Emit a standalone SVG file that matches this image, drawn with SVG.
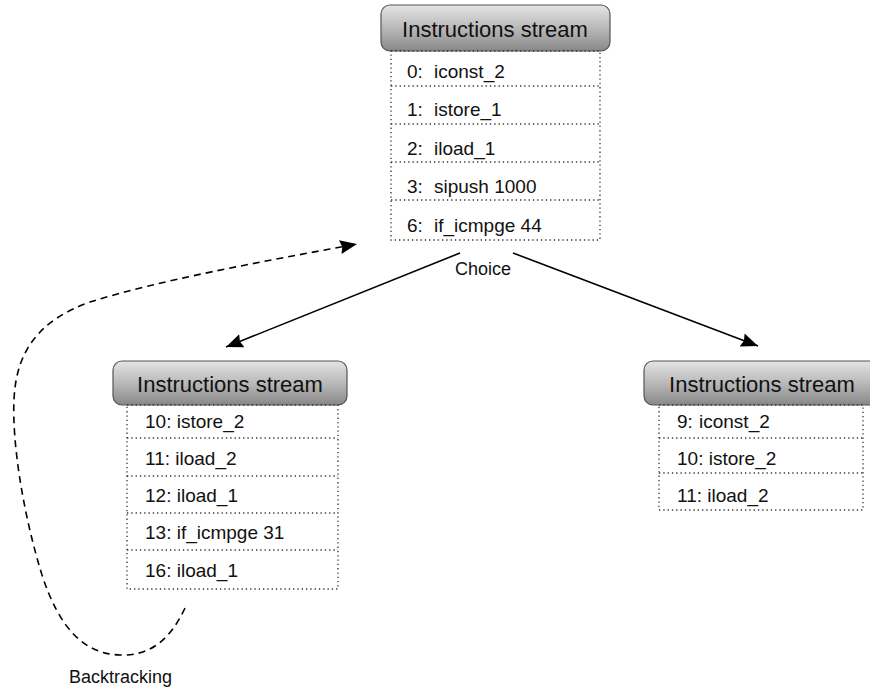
<svg xmlns="http://www.w3.org/2000/svg" width="870" height="690" viewBox="0 0 870 690">
  <defs>
    <linearGradient id="hdrFill" x1="0" y1="0" x2="0" y2="1">
      <stop offset="0" stop-color="#e4e4e4"/>
      <stop offset="0.5" stop-color="#b9b9b9"/>
      <stop offset="1" stop-color="#888"/>
    </linearGradient>
    <marker id="arrow" markerUnits="userSpaceOnUse" markerWidth="18" markerHeight="14" refX="17" refY="7" orient="auto">
      <path d="M0,0 L17,7 L0,14 L2,7 z" fill="#000"/>
    </marker>
  </defs>
  <style>
    text { font-family: "Liberation Sans", Arial, sans-serif; fill: #111; }
    .hdr { fill: url(#hdrFill); stroke: #555; stroke-width: 1.2; }
    .hdrText { font-size: 22px; text-anchor: middle; }
    .row { font-size: 19px; }
    .list { fill: none; stroke: #333; stroke-width: 1.3; stroke-dasharray: 1.3 3; }
    .label { font-size: 18px; }
    .edge { fill: none; stroke: #000; stroke-width: 1.6; marker-end: url(#arrow); }
    .back { stroke-dasharray: 7 5; }
  </style>

  <rect width="870" height="690" fill="#fff"/>

  <!-- root block -->
  <g id="stream-root">
    <rect class="hdr" x="381" y="5" width="229" height="46" rx="9"/>
    <text class="hdrText" x="495" y="37">Instructions stream</text>
    <rect class="list" x="391" y="51" width="209" height="189"/>
    <path class="list" d="M391,86 H600 M391,124 H600 M391,162 H600 M391,200 H600"/>
    <text class="row" x="407" y="78">0:<tspan x="434">iconst_2</tspan></text>
    <text class="row" x="407" y="116">1:<tspan x="434">istore_1</tspan></text>
    <text class="row" x="407" y="155">2:<tspan x="434">iload_1</tspan></text>
    <text class="row" x="407" y="193">3:<tspan x="434">sipush 1000</tspan></text>
    <text class="row" x="407" y="232">6:<tspan x="434">if_icmpge 44</tspan></text>
  </g>

  <!-- branch taken -->
  <g id="stream-left">
    <rect class="hdr" x="113" y="361" width="234" height="44" rx="9"/>
    <text class="hdrText" x="230" y="392">Instructions stream</text>
    <rect class="list" x="127" y="405" width="211" height="184"/>
    <path class="list" d="M127,438 H338 M127,476 H338 M127,513 H338 M127,550 H338"/>
    <text class="row" x="145" y="428">10: istore_2</text>
    <text class="row" x="145" y="465">11: iload_2</text>
    <text class="row" x="145" y="502">12: iload_1</text>
    <text class="row" x="145" y="539">13: if_icmpge 31</text>
    <text class="row" x="145" y="577">16: iload_1</text>
  </g>

  <!-- branch not taken -->
  <g id="stream-right">
    <rect class="hdr" x="644" y="361" width="236" height="44" rx="9"/>
    <text class="hdrText" x="762" y="392">Instructions stream</text>
    <rect class="list" x="659" y="405" width="204" height="105"/>
    <path class="list" d="M659,438 H863 M659,473 H863"/>
    <text class="row" x="677" y="428">9:<tspan x="699">iconst_2</tspan></text>
    <text class="row" x="677" y="465">10: istore_2</text>
    <text class="row" x="677" y="502">11: iload_2</text>
  </g>

  <!-- connectors -->
  <g id="connectors">
    <line class="edge" x1="460" y1="253" x2="226" y2="347"/>
    <line class="edge" x1="513" y1="253" x2="758" y2="346"/>
    <path class="edge back" d="M185,608 C170,640 150,656 120,655 C85,654 60,630 42,575 C22,510 12,440 14,400 C16,350 40,320 90,302 C160,280 260,262 357,244"/>
    <text class="label" x="483" y="275" text-anchor="middle">Choice</text>
    <text class="label" x="69" y="683">Backtracking</text>
  </g>
</svg>
